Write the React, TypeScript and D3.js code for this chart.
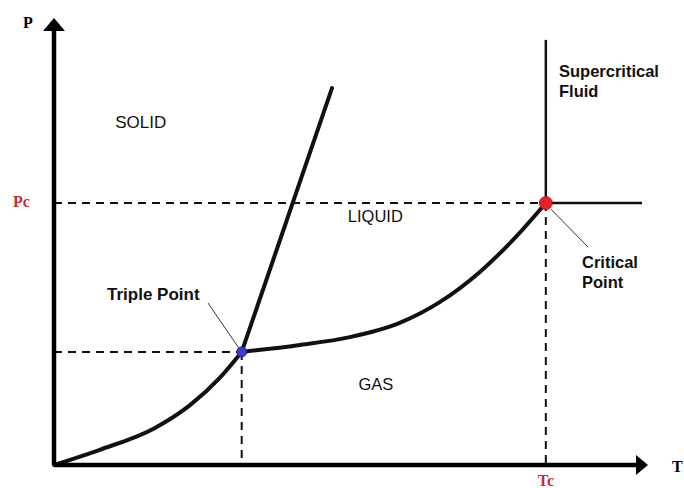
import * as d3 from 'd3'

// phase diagram, arbitrary units (T and P both 0..100)
const sublimation: [number, number][] = [
  [0, 0], [7.7, 3.4], [17, 8.3], [22.9, 13.4], [27.9, 19.5], [31.6, 25.3],
]
const vaporization: [number, number][] = [
  [31.6, 25.3], [41.1, 26.8], [49.8, 28.6], [58.2, 31.8], [65.0, 36.5], [71.7, 43.2], [77.6, 50.8], [82.8, 58.6],
]
const fusion: [number, number][] = [[31.6, 25.3], [46.8, 84.3]]
const triplePoint: [number, number] = [31.6, 25.3]
const criticalPoint: [number, number] = [82.8, 58.6]
const supercriticalTop = 95.1
const supercriticalRight = 99

const regionLabels = [
  { text: 'SOLID', t: 14.6, p: 75.4, size: 17 },
  { text: 'LIQUID', t: 54.1, p: 54.4, size: 16.5 },
  { text: 'GAS', t: 54.2, p: 16.8, size: 16.5 },
]

const W = 684
const H = 488
const x = d3.scaleLinear().domain([0, 100]).range([54, 648])
const y = d3.scaleLinear().domain([0, 100]).range([465, 18])

const sans = 'Arial, "Liberation Sans", sans-serif'
const serif = '"Times New Roman", "Liberation Serif", serif'

export default function App() {
  const curve = d3
    .line<[number, number]>()
    .x((d) => x(d[0]))
    .y((d) => y(d[1]))
    .curve(d3.curveMonotoneX)
  const straight = d3
    .line<[number, number]>()
    .x((d) => x(d[0]))
    .y((d) => y(d[1]))

  const x0 = x(0)
  const y0 = y(0)
  const [tx, ty] = [x(triplePoint[0]), y(triplePoint[1])]
  const [cx, cy] = [x(criticalPoint[0]), y(criticalPoint[1])]

  return (
    <svg width={W} height={H} style={{ position: 'absolute', left: 0, top: 0, background: '#fff' }}>
      {/* dashed guides */}
      <g stroke="#111" strokeWidth={2} strokeDasharray="8,6" fill="none">
        <line x1={x0} y1={cy} x2={cx} y2={cy} />
        <line x1={cx} y1={cy} x2={cx} y2={y0} />
        <line x1={x0} y1={ty} x2={tx} y2={ty} />
        <line x1={tx} y1={ty} x2={tx} y2={y0} />
      </g>

      {/* supercritical boundaries */}
      <g stroke="#111" strokeWidth={2.5}>
        <line x1={cx} y1={y(supercriticalTop)} x2={cx} y2={cy} />
        <line x1={cx} y1={cy} x2={x(supercriticalRight)} y2={cy} />
      </g>

      {/* phase boundaries */}
      <g stroke="#111" strokeWidth={4} fill="none" strokeLinecap="round">
        <path d={curve(sublimation) ?? ''} />
        <path d={curve(vaporization) ?? ''} />
        <path d={straight(fusion) ?? ''} />
      </g>

      {/* axes */}
      <g stroke="#000" strokeWidth={4.5}>
        <line x1={x0} y1={y0} x2={x(100) - 10} y2={y0} />
        <line x1={x0} y1={y0} x2={x0} y2={y(100) + 10} />
      </g>
      <path d={`M${x(100)},${y0} L${x(100) - 12},${y0 - 10} L${x(100) - 12},${y0 + 10} Z`} fill="#000" />
      <path d={`M${x0},${y(100)} L${x0 - 11},${y(100) + 13} L${x0 + 11},${y(100) + 13} Z`} fill="#000" />

      {/* leader lines */}
      <g stroke="#333" strokeWidth={1}>
        <line x1={208} y1={303} x2={tx - 3} y2={ty - 4} />
        <line x1={cx + 5} y1={cy + 6} x2={588} y2={247} />
      </g>

      {/* points */}
      <circle cx={tx} cy={ty} r={5} fill="#3b3bd6" stroke="#1a1a80" strokeWidth={0.8} />
      <circle cx={cx} cy={cy} r={6.5} fill="#e8202a" stroke="#a01018" strokeWidth={0.8} />

      {/* text */}
      <g fontFamily={sans} fill="#111">
        {regionLabels.map((l) => (
          <text key={l.text} x={x(l.t)} y={y(l.p)} fontSize={l.size} textAnchor="middle">
            {l.text}
          </text>
        ))}
      </g>
      <g fontFamily={sans} fontSize={16.5} fontWeight="bold" fill="#111">
        <text x={559} y={77}>Supercritical</text>
        <text x={559} y={97}>Fluid</text>
        <text x={107} y={300} fontSize={17}>Triple Point</text>
        <text x={582} y={268}>Critical</text>
        <text x={582} y={288}>Point</text>
      </g>
      <g fontFamily={serif} fontWeight="bold" fontSize={16}>
        <text x={23} y={28} fill="#000">P</text>
        <text x={672} y={472} fill="#000">T</text>
        <text x={13} y={207} fill="#cc2a36">Pc</text>
        <text x={cx} y={486} textAnchor="middle" fill="#cc2a36">Tc</text>
      </g>
    </svg>
  )
}
